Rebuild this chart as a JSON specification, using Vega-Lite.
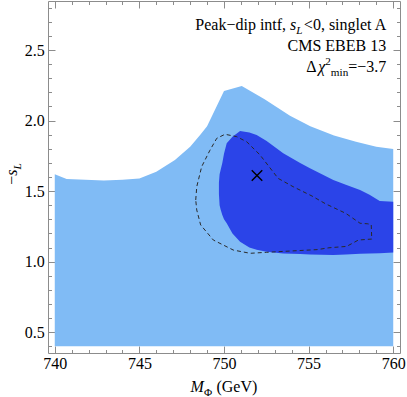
{
  "$schema": "https://vega.github.io/schema/vega-lite/v6.json",
  "width": 352,
  "height": 352,
  "autosize": "none",
  "padding": {"left": 48, "top": 1, "right": 7, "bottom": 44},
  "config": {
    "view": {"stroke": "#8c8c8c", "strokeWidth": 1},
    "axis": {"grid": false, "domain": false, "tickColor": "#8c8c8c", "labelFont": "Liberation Serif", "labelFontSize": 16, "labelColor": "#000000", "title": null, "zindex": 1}
  },
  "resolve": {"axis": {"x": "independent", "y": "independent"}},
  "layer": [
    {
      "data": {"values": [
        {"x": 740.0, "y": 1.62}, {"x": 740.7, "y": 1.586}, {"x": 741.8, "y": 1.58}, {"x": 742.9, "y": 1.575},
        {"x": 744.0, "y": 1.58}, {"x": 745.0, "y": 1.59}, {"x": 746.0, "y": 1.638}, {"x": 747.1, "y": 1.72},
        {"x": 748.0, "y": 1.815}, {"x": 748.6, "y": 1.9}, {"x": 749.0, "y": 1.96}, {"x": 750.0, "y": 2.21},
        {"x": 751.05, "y": 2.245}, {"x": 752.4, "y": 2.152}, {"x": 753.9, "y": 2.035}, {"x": 755.1, "y": 1.96},
        {"x": 756.5, "y": 1.895}, {"x": 757.8, "y": 1.85}, {"x": 759.0, "y": 1.815}, {"x": 760.0, "y": 1.798}
      ]},
      "mark": {"type": "area", "color": "#80bbf5", "opacity": 1},
      "encoding": {
        "x": {"field": "x", "type": "quantitative", "scale": {"domain": [739.6, 760.4], "nice": false, "zero": false},
              "axis": {"orient": "bottom", "values": [740, 745, 750, 755, 760], "tickSize": -7, "labelPadding": 9.5, "format": "d", "labelFont": "Liberation Serif", "labelFontSize": 16}},
        "y": {"field": "y", "type": "quantitative", "scale": {"domain": [0.352, 2.848], "nice": false, "zero": false},
              "axis": {"orient": "left", "values": [0.5, 1.0, 1.5, 2.0, 2.5], "tickSize": -7, "labelPadding": 10.7, "format": ".1f", "labelFont": "Liberation Serif", "labelFontSize": 16}},
        "y2": {"datum": 0.4}
      }
    },
    {
      "data": {"values": [
        {"x": 749.70, "lo": 1.48, "hi": 1.56}, {"x": 749.74, "lo": 1.40, "hi": 1.62}, {"x": 749.80, "lo": 1.37, "hi": 1.65},
        {"x": 749.90, "lo": 1.33, "hi": 1.70}, {"x": 750.00, "lo": 1.30, "hi": 1.765}, {"x": 750.16, "lo": 1.272, "hi": 1.839},
        {"x": 750.50, "lo": 1.20, "hi": 1.885}, {"x": 750.95, "lo": 1.141, "hi": 1.926}, {"x": 751.50, "lo": 1.10, "hi": 1.915},
        {"x": 751.93, "lo": 1.085, "hi": 1.898}, {"x": 752.52, "lo": 1.07, "hi": 1.855}, {"x": 753.50, "lo": 1.058, "hi": 1.768},
        {"x": 754.50, "lo": 1.054, "hi": 1.70}, {"x": 755.08, "lo": 1.05, "hi": 1.662}, {"x": 756.46, "lo": 1.047, "hi": 1.579},
        {"x": 757.20, "lo": 1.05, "hi": 1.545}, {"x": 758.04, "lo": 1.055, "hi": 1.508}, {"x": 758.60, "lo": 1.058, "hi": 1.475},
        {"x": 759.20, "lo": 1.06, "hi": 1.43}, {"x": 760.00, "lo": 1.065, "hi": 1.425}
      ]},
      "mark": {"type": "area", "color": "#2b44e8", "opacity": 1},
      "encoding": {
        "x": {"field": "x", "type": "quantitative", "scale": {"domain": [739.6, 760.4], "nice": false, "zero": false},
              "axis": {"orient": "bottom", "values": [740,741,742,743,744,745,746,747,748,749,750,751,752,753,754,755,756,757,758,759,760], "tickSize": -3.5, "labels": false}},
        "y": {"field": "lo", "type": "quantitative", "scale": {"domain": [0.352, 2.848], "nice": false, "zero": false},
              "axis": {"orient": "left", "values": [0.4,0.5,0.6,0.7,0.8,0.9,1.0,1.1,1.2,1.3,1.4,1.5,1.6,1.7,1.8,1.9,2.0,2.1,2.2,2.3,2.4,2.5,2.6,2.7,2.8], "tickSize": -3.5, "labels": false}},
        "y2": {"field": "hi"}
      }
    },
    {
      "data": {"values": [
        {"o": 1, "x": 748.33, "y": 1.437}, {"o": 2, "x": 748.39, "y": 1.531}, {"o": 3, "x": 748.68, "y": 1.673},
        {"o": 4, "x": 749.17, "y": 1.79}, {"o": 5, "x": 749.57, "y": 1.874}, {"o": 6, "x": 750.06, "y": 1.903},
        {"o": 7, "x": 750.75, "y": 1.886}, {"o": 8, "x": 751.34, "y": 1.85}, {"o": 9, "x": 752.13, "y": 1.756},
        {"o": 10, "x": 753.2, "y": 1.59}, {"o": 11, "x": 754.09, "y": 1.531}, {"o": 12, "x": 755.2, "y": 1.465},
        {"o": 13, "x": 756.0, "y": 1.41}, {"o": 14, "x": 757.2, "y": 1.342}, {"o": 15, "x": 758.04, "y": 1.272},
        {"o": 16, "x": 758.5, "y": 1.268}, {"o": 17, "x": 758.7, "y": 1.262}, {"o": 18, "x": 758.73, "y": 1.16},
        {"o": 19, "x": 757.94, "y": 1.153}, {"o": 20, "x": 757.25, "y": 1.108}, {"o": 21, "x": 756.2, "y": 1.098},
        {"o": 22, "x": 755.5, "y": 1.085}, {"o": 23, "x": 753.9, "y": 1.075}, {"o": 24, "x": 752.52, "y": 1.066},
        {"o": 25, "x": 751.54, "y": 1.059}, {"o": 26, "x": 750.55, "y": 1.082}, {"o": 27, "x": 749.37, "y": 1.153},
        {"o": 28, "x": 748.62, "y": 1.26}, {"o": 29, "x": 748.39, "y": 1.366}, {"o": 30, "x": 748.33, "y": 1.437}
      ]},
      "mark": {"type": "line", "color": "#2a2a2a", "strokeWidth": 1, "strokeDash": [4, 3]},
      "encoding": {
        "x": {"field": "x", "type": "quantitative", "scale": {"domain": [739.6, 760.4], "nice": false, "zero": false},
              "axis": {"orient": "top", "values": [740, 745, 750, 755, 760], "tickSize": -7, "labels": false}},
        "y": {"field": "y", "type": "quantitative", "scale": {"domain": [0.352, 2.848], "nice": false, "zero": false},
              "axis": {"orient": "right", "values": [0.5, 1.0, 1.5, 2.0, 2.5], "tickSize": -7, "labels": false}},
        "order": {"field": "o", "type": "quantitative"}
      }
    },
    {
      "data": {"values": [{"x": 751.95, "y": 1.61}]},
      "mark": {"type": "point", "shape": "M-1,-1L1,1M-1,1L1,-1", "filled": false, "stroke": "#000000", "strokeWidth": 1.4, "size": 110, "opacity": 1},
      "encoding": {
        "x": {"field": "x", "type": "quantitative", "scale": {"domain": [739.6, 760.4], "nice": false, "zero": false},
              "axis": {"orient": "top", "values": [740,741,742,743,744,745,746,747,748,749,750,751,752,753,754,755,756,757,758,759,760], "tickSize": -3.5, "labels": false}},
        "y": {"field": "y", "type": "quantitative", "scale": {"domain": [0.352, 2.848], "nice": false, "zero": false},
              "axis": {"orient": "right", "values": [0.4,0.5,0.6,0.7,0.8,0.9,1.0,1.1,1.2,1.3,1.4,1.5,1.6,1.7,1.8,1.9,2.0,2.1,2.2,2.3,2.4,2.5,2.6,2.7,2.8], "tickSize": -3.5, "labels": false}}
      }
    },
    {
      "encoding": {
        "x": {"field": "x", "type": "quantitative", "scale": {"domain": [739.6, 760.4], "nice": false, "zero": false}, "axis": null},
        "y": {"field": "y", "type": "quantitative", "scale": {"domain": [0.352, 2.848], "nice": false, "zero": false}, "axis": null},
        "text": {"field": "t"}
      },
      "layer": [
        {"data": {"values": [{"t": "Peak−dip intf,", "x": 760, "y": 2.642}]},
         "mark": {"type": "text", "align": "right", "baseline": "alphabetic", "dx": -107.1, "font": "Liberation Serif", "fontSize": 16, "color": "#000000"}},
        {"data": {"values": [{"t": "s", "x": 760, "y": 2.642}]},
         "mark": {"type": "text", "align": "right", "baseline": "alphabetic", "dx": -96.9, "font": "Liberation Serif", "fontStyle": "italic", "fontSize": 16, "color": "#000000"}},
        {"data": {"values": [{"t": "L", "x": 760, "y": 2.642}]},
         "mark": {"type": "text", "align": "right", "baseline": "alphabetic", "dx": -90.7, "dy": 3.5, "font": "Liberation Serif", "fontStyle": "italic", "fontSize": 11.2, "color": "#000000"}},
        {"data": {"values": [{"t": "<0, singlet A", "x": 760, "y": 2.642}]},
         "mark": {"type": "text", "align": "right", "baseline": "alphabetic", "dx": -7, "font": "Liberation Serif", "fontSize": 16, "color": "#000000"}},
        {"data": {"values": [{"t": "CMS EBEB 13", "x": 760, "y": 2.494}]},
         "mark": {"type": "text", "align": "right", "baseline": "alphabetic", "dx": -7, "font": "Liberation Serif", "fontSize": 16, "color": "#000000"}},
        {"data": {"values": [{"t": "=−3.7", "x": 760, "y": 2.345}]},
         "mark": {"type": "text", "align": "right", "baseline": "alphabetic", "dx": -7, "font": "Liberation Serif", "fontSize": 16, "color": "#000000"}},
        {"data": {"values": [{"t": "min", "x": 760, "y": 2.345}]},
         "mark": {"type": "text", "align": "right", "baseline": "alphabetic", "dx": -45, "dy": 4, "font": "Liberation Serif", "fontSize": 11.2, "color": "#000000"}},
        {"data": {"values": [{"t": "2", "x": 760, "y": 2.345}]},
         "mark": {"type": "text", "align": "right", "baseline": "alphabetic", "dx": -62.4, "dy": -6.5, "font": "Liberation Serif", "fontSize": 11.2, "color": "#000000"}},
        {"data": {"values": [{"t": "χ", "x": 760, "y": 2.345}]},
         "mark": {"type": "text", "align": "right", "baseline": "alphabetic", "dx": -68, "font": "Liberation Serif", "fontStyle": "italic", "fontSize": 16, "color": "#000000"}},
        {"data": {"values": [{"t": "Δ", "x": 760, "y": 2.345}]},
         "mark": {"type": "text", "align": "right", "baseline": "alphabetic", "dx": -76.8, "font": "Liberation Serif", "fontSize": 16, "color": "#000000"}},
        {"data": {"values": [{"t": "M", "x": 750, "y": 0.352}]},
         "mark": {"type": "text", "align": "left", "baseline": "alphabetic", "dx": -33.4, "dy": 39, "font": "Liberation Serif", "fontStyle": "italic", "fontSize": 16, "color": "#000000"}},
        {"data": {"values": [{"t": "Φ", "x": 750, "y": 0.352}]},
         "mark": {"type": "text", "align": "left", "baseline": "alphabetic", "dx": -20.1, "dy": 42.5, "font": "Liberation Serif", "fontSize": 11.2, "color": "#000000"}},
        {"data": {"values": [{"t": "(GeV)", "x": 750, "y": 0.352}]},
         "mark": {"type": "text", "align": "left", "baseline": "alphabetic", "dx": -7.6, "dy": 39, "font": "Liberation Serif", "fontSize": 16, "color": "#000000"}},
        {"data": {"values": [{"t": "−", "x": 739.6, "y": 1.6}]},
         "mark": {"type": "text", "align": "left", "baseline": "alphabetic", "angle": 270, "dx": -7.7, "dy": -31, "font": "Liberation Serif", "fontSize": 16, "color": "#000000"}},
        {"data": {"values": [{"t": "s", "x": 739.6, "y": 1.6}]},
         "mark": {"type": "text", "align": "left", "baseline": "alphabetic", "angle": 270, "dx": 1.3, "dy": -31, "font": "Liberation Serif", "fontStyle": "italic", "fontSize": 16, "color": "#000000"}},
        {"data": {"values": [{"t": "L", "x": 739.6, "y": 1.6}]},
         "mark": {"type": "text", "align": "left", "baseline": "alphabetic", "angle": 270, "dx": 7.5, "dy": -27.5, "font": "Liberation Serif", "fontStyle": "italic", "fontSize": 11.2, "color": "#000000"}}
      ]
    }
  ]
}
